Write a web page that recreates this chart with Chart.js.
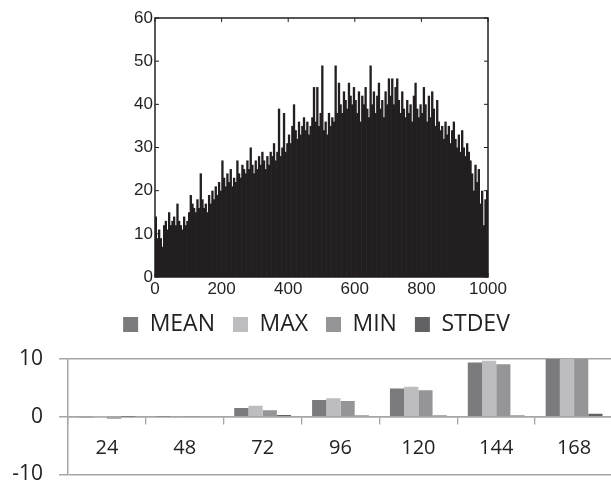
<!DOCTYPE html>
<html>
<head>
<meta charset="utf-8">
<script src="https://cdn.jsdelivr.net/npm/chart.js@4.4.1/dist/chart.umd.min.js"></script>
<style>
  html, body { margin: 0; padding: 0; background: #fff; overflow: hidden; width: 611px; height: 480px; }
  #histBox { position: absolute; left: 0; top: 0; width: 611px; height: 300px; }
  #groupBox { position: absolute; left: 0; top: 295px; width: 625px; height: 208px; }
</style>
</head>
<body>
<div id="histBox"><canvas id="histChart"></canvas></div>
<div id="groupBox"><canvas id="groupChart"></canvas></div>
<script>
// top panel: counts per bin of 5 units
const histBinSize = 5;
const histCounts = [
  14, 9, 11, 9, 7, 12, 13, 11, 15, 12, 13, 14, 12, 17, 13, 12, 11, 14, 12, 13,
  15, 19, 17, 16, 15, 18, 16, 24, 18, 16, 17, 15, 19, 17, 20, 18, 21, 19, 22, 20,
  27, 23, 21, 24, 22, 25, 21, 23, 22, 27, 24, 23, 26, 25, 24, 27, 25, 30, 26, 24,
  27, 25, 28, 26, 29, 27, 25, 28, 26, 29, 28, 31, 27, 29, 39, 28, 30, 38, 29, 31,
  33, 31, 35, 40, 34, 32, 36, 33, 35, 37, 34, 36, 33, 35, 37, 44, 36, 44, 35, 38,
  49, 34, 36, 33, 38, 35, 37, 36, 49, 38, 45, 40, 38, 43, 41, 39, 45, 42, 40, 44,
  41, 38, 43, 36, 42, 40, 44, 39, 37, 49, 40, 43, 38, 42, 45, 39, 41, 37, 43, 40,
  46, 42, 46, 40, 44, 46, 41, 38, 43, 39, 37, 41, 38, 40, 36, 42, 45, 39, 37, 40,
  38, 44, 40, 36, 42, 37, 43, 39, 35, 41, 36, 34, 35, 32, 36, 33, 35, 31, 34, 36,
  32, 30, 33, 29, 34, 30, 28, 31, 29, 27, 24, 20, 26, 22, 25, 17, 20, 12, 18, 20
];

// bottom panel
const groupLabels = ["24", "48", "72", "96", "120", "144", "168"];
const meanValues  = [-0.2, 0.05, 1.5, 2.9, 4.9, 9.4, 14];
const maxValues   = [0.02, 0.1, 1.9, 3.2, 5.2, 9.7, 15];
const minValues   = [-0.35, 0.05, 1.1, 2.7, 4.6, 9.1, 13];
const stdevValues = [0.05, 0.1, 0.3, 0.2, 0.2, 0.2, 0.5];

const ink = '#231f20';

// MATLAB style box with inward ticks
const boxFrame = {
  id: 'boxFrame',
  afterDraw(chart) {
    const { ctx, chartArea: a } = chart;
    const x = chart.scales.x, y = chart.scales.y;
    ctx.save();
    ctx.strokeStyle = ink;
    ctx.lineWidth = 1.5;
    ctx.strokeRect(a.left, a.top, a.right - a.left, a.bottom - a.top);
    ctx.lineWidth = 1;
    ctx.beginPath();
    x.ticks.forEach(t => {
      const px = x.getPixelForValue(t.value);
      ctx.moveTo(px, a.bottom); ctx.lineTo(px, a.bottom - 4);
      ctx.moveTo(px, a.top); ctx.lineTo(px, a.top + 4);
    });
    y.ticks.forEach(t => {
      const py = y.getPixelForValue(t.value);
      ctx.moveTo(a.left, py); ctx.lineTo(a.left + 4, py);
      ctx.moveTo(a.right, py); ctx.lineTo(a.right - 4, py);
    });
    ctx.stroke();
    ctx.restore();
  }
};

new Chart(document.getElementById('histChart'), {
  type: 'bar',
  data: {
    datasets: [{
      data: histCounts.map((v, i) => ({ x: i * histBinSize + histBinSize / 2, y: v })),
      backgroundColor: ink,
      borderWidth: 0,
      barPercentage: 1.4,
      categoryPercentage: 1
    }]
  },
  options: {
    responsive: true,
    maintainAspectRatio: false,
    animation: false,
    layout: { padding: { left: 115, right: 123, top: 18, bottom: 3 } },
    plugins: { legend: { display: false }, tooltip: { enabled: false } },
    scales: {
      x: {
        type: 'linear', min: 0, max: 1000, offset: false,
        grid: { display: false, drawTicks: false },
        border: { display: false },
        ticks: { stepSize: 200, padding: 2, color: ink, font: { family: 'Liberation Sans', size: 17 }, maxRotation: 0,
                 callback: v => String(v) },
        afterFit: s => { s.height = 20; }
      },
      y: {
        min: 0, max: 60,
        grid: { display: false, drawTicks: false },
        border: { display: false },
        ticks: { stepSize: 10, padding: 2, color: ink, font: { family: 'Liberation Sans', size: 17 } },
        afterFit: s => { s.width = 40; }
      }
    }
  },
  plugins: [boxFrame]
});

const axisGray = '#a6a6a6';
const textDark = '#222222';

// fixed legend block height, and legend nudged right like the reference
const legendBlock = {
  id: 'legendBlock',
  beforeInit(chart) {
    const fit = chart.legend.fit;
    chart.legend.fit = function () {
      fit.call(this);
      this.height = 64;
    };
  },
  afterLayout(chart) {
    chart.legend.left += 10;
    chart.legend.right += 10;
  }
};

new Chart(document.getElementById('groupChart'), {
  type: 'bar',
  data: {
    labels: groupLabels,
    datasets: [
      { label: 'MEAN', data: meanValues, backgroundColor: '#7b7b7d' },
      { label: 'MAX', data: maxValues, backgroundColor: '#bdbdbf' },
      { label: 'MIN', data: minValues, backgroundColor: '#959597' },
      { label: 'STDEV', data: stdevValues, backgroundColor: '#626264' }
    ]
  },
  options: {
    responsive: true,
    maintainAspectRatio: false,
    animation: false,
    datasets: { bar: { barPercentage: 1, categoryPercentage: 0.73, borderWidth: 0 } },
    layout: { padding: { left: 0, right: 12, top: 0, bottom: 9 } },
    plugins: {
      tooltip: { enabled: false },
      legend: {
        position: 'top',
        labels: {
          boxWidth: 15, boxHeight: 15, padding: 18, color: textDark,
          font: { family: 'Open Sans', size: 23 }
        }
      }
    },
    scales: {
      x: {
        position: { y: 0 },
        grid: { offset: true, drawOnChartArea: false, tickLength: 7, color: axisGray, lineWidth: 1.3 },
        border: { display: true, color: axisGray, width: 1.5 },
        ticks: { padding: 13, color: textDark, font: { family: 'Open Sans', size: 20 }, maxRotation: 0 }
      },
      y: {
        min: -10, max: 10,
        grid: { color: axisGray, lineWidth: 1.5, tickLength: 9 },
        border: { display: true, color: axisGray, width: 1.5 },
        ticks: { stepSize: 10, padding: 16, color: textDark, font: { family: 'Open Sans', size: 21 } },
        afterFit: s => { s.width = 68; }
      }
    }
  },
  plugins: [legendBlock]
});
</script>
</body>
</html>
